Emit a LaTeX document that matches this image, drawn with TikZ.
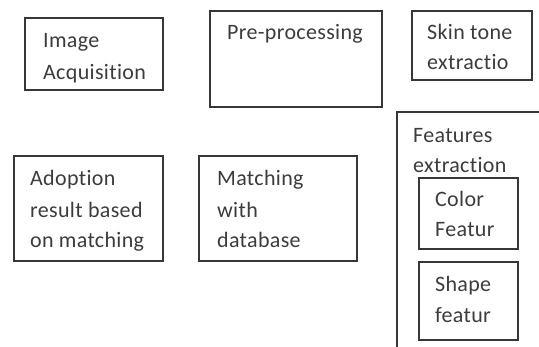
\documentclass[tikz,border=0pt]{standalone}
\usepackage{fontspec}
\setmainfont[Ligatures=NoCommon,LetterSpace=1.5]{Carlito}
\definecolor{ink}{RGB}{60,60,60}
\definecolor{edge}{RGB}{55,55,55}
\begin{document}
\begin{tikzpicture}[x=1pt,y=-1pt,
  box/.style={draw=edge,line width=1.3pt,inner sep=0pt},
  lbl/.style={anchor=base west,inner sep=0pt,text=ink,font=\fontsize{22}{31}\selectfont}]
\useasboundingbox (0,0) rectangle (539,347);
% boxes
\node[box,minimum width=138,minimum height=72] (acq) at (94,54) {};
\node[box,minimum width=172,minimum height=96] (pre) at (296,59) {};
\node[box,minimum width=120,minimum height=69] (skin) at (472,45.5) {};
\node[box,minimum width=149,minimum height=105] (adopt) at (88.5,208.5) {};
\node[box,minimum width=158,minimum height=105] (match) at (278,208.5) {};
\node[box,minimum width=99,minimum height=71] (color) at (468.5,213.5) {};
\node[box,minimum width=99,minimum height=78] (shape) at (468.5,301) {};
\coordinate (fetl) at (397,112);
\coordinate (fetr) at (545,112);
\coordinate (fetb) at (397,352);
\draw[edge,line width=1.3pt] (fetb) -- (fetl) -- (fetr);
% labels
\node[lbl] (t1a) at (43,48) {Image};
\node[lbl] (t1b) at (43,80) {Acquisition};
\node[lbl] (t2) at (227,40) {Pre-processing};
\node[lbl] (t3a) at (427,40) {Skin tone};
\node[lbl] (t3b) at (427,70) {extractio};
\node[lbl] (t4a) at (413,143) {Features};
\node[lbl] (t4b) at (413,173) {extraction};
\node[lbl] (t5a) at (435,207) {Color};
\node[lbl] (t5b) at (435,237) {Featur};
\node[lbl] (t6a) at (435,292) {Shape};
\node[lbl] (t6b) at (435,323) {featur};
\node[lbl] (t7a) at (30,186) {Adoption};
\node[lbl] (t7b) at (30,218) {result based};
\node[lbl] (t7c) at (30,248) {on matching};
\node[lbl] (t8a) at (217,186) {Matching};
\node[lbl] (t8b) at (217,218) {with};
\node[lbl] (t8c) at (217,248) {database};
\end{tikzpicture}
\end{document}
